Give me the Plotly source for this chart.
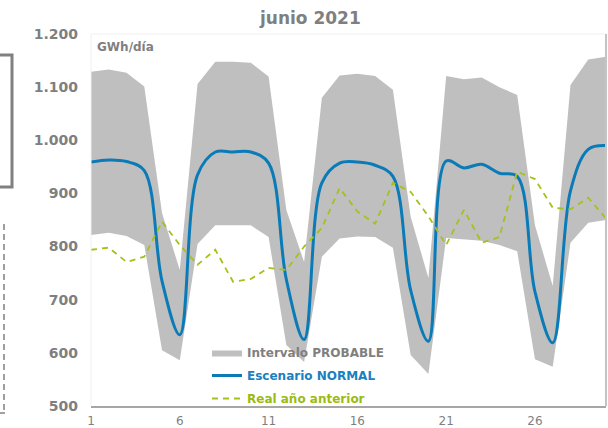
import plotly.graph_objects as go

days = list(range(1, 31))
upper = [1129, 1133, 1127, 1101, 863, 756, 1106, 1148, 1148, 1146, 1120, 869, 771, 1080, 1122,
         1125, 1121, 1095, 856, 741, 1121, 1115, 1118, 1100, 1085, 840, 726, 1104, 1152, 1157]
lower = [822, 826, 820, 803, 605, 586, 805, 840, 840, 840, 818, 615, 583, 781, 815,
         819, 818, 798, 596, 560, 816, 813, 811, 803, 791, 588, 574, 807, 845, 850]
normal = [959, 963, 960, 943, 735, 634, 935, 978, 978, 978, 957, 738, 625, 920, 957,
          959, 953, 932, 718, 622, 961, 948, 955, 938, 932, 715, 619, 905, 983, 990]
anterior = [794, 798, 771, 781, 847, 803, 766, 794, 734, 739, 760, 756, 800, 835, 910,
            866, 843, 920, 903, 857, 803, 869, 807, 818, 941, 927, 873, 870, 892, 853]
xticks = [1, 6, 11, 16, 21, 26]
yticks = [500, 600, 700, 800, 900, 1000, 1100, 1200]

GRAY = "#7f7f7f"
BAND = "#bfbfbf"
BLUE = "#0b7bb7"
GREEN = "#a3c21a"
FONT = "DejaVu Sans"

fig = go.Figure()
fig.add_trace(go.Scatter(x=days, y=lower, mode="lines", line=dict(width=0, color=BAND),
                         showlegend=False, hoverinfo="skip", legendgroup="a"))
fig.add_trace(go.Scatter(x=days, y=upper, mode="lines", line=dict(width=0, color=BAND),
                         fill="tonexty", fillcolor=BAND, legendgroup="a",
                         name="<span style='color:#7f7f7f'>Intervalo PROBABLE</span>"))
fig.add_trace(go.Scatter(x=days, y=normal, mode="lines", legendgroup="b",
                         line=dict(color=BLUE, width=3, shape="spline", smoothing=1),
                         name="<span style='color:#1a80bf'>Escenario NORMAL</span>"))
fig.add_trace(go.Scatter(x=days, y=anterior, mode="lines", legendgroup="c",
                         line=dict(color=GREEN, width=1.8, dash="6px,5px"),
                         name="<span style='color:#9cbb10'>Real año anterior</span>"))

def px_x(p):
    return (p - 91) / 515.0

def px_y(p):
    return (406 - p) / 372.0

shapes = [
    # faint plot frame
    dict(type="line", xref="paper", yref="paper", x0=0, x1=1, y0=1, y1=1,
         line=dict(color="#f0f0f0", width=1)),
    dict(type="line", xref="paper", yref="paper", x0=0, x1=0, y0=0, y1=1,
         line=dict(color="#f0f0f0", width=1)),
    dict(type="line", xref="paper", yref="paper", x0=1, x1=1, y0=0, y1=1,
         line=dict(color="#c4c4c4", width=2)),
    # left-edge decorations
    dict(type="path", xref="paper", yref="paper",
         path=f"M {px_x(0)},{px_y(55)} L {px_x(12)},{px_y(55)} L {px_x(12)},{px_y(187)} L {px_x(0)},{px_y(187)}",
         line=dict(color="#808080", width=3)),
    dict(type="line", xref="paper", yref="paper", x0=px_x(4), x1=px_x(4), y0=px_y(224), y1=px_y(413),
         line=dict(color="#808080", width=1.5, dash="6px,4px")),
    dict(type="line", xref="paper", yref="paper", x0=px_x(0), x1=px_x(5), y0=px_y(413), y1=px_y(413),
         line=dict(color="#808080", width=1.5)),
]

annotations = [
    dict(text="<b>junio 2021</b>", xref="paper", yref="paper", x=px_x(310), y=px_y(18),
         showarrow=False, font=dict(family=FONT, size=17, color=GRAY), xanchor="center", yanchor="middle"),
    dict(text="<b>GWh/día</b>", xref="paper", yref="paper", x=px_x(95), y=px_y(47),
         showarrow=False, font=dict(family=FONT, size=12, color=GRAY), xanchor="left", yanchor="middle"),
]

fig.update_layout(
    width=608, height=428,
    margin=dict(l=91, r=2, t=34, b=22),
    paper_bgcolor="white", plot_bgcolor="white",
    separators=",.",
    showlegend=True,
    legend=dict(x=px_x(207), y=px_y(338), xanchor="left", yanchor="top",
                bgcolor="rgba(0,0,0,0)", tracegroupgap=4,
                font=dict(family=FONT, size=12, color=GRAY, weight="bold")),
    shapes=shapes,
    annotations=annotations,
    xaxis=dict(range=[1, 30], tickvals=xticks, ticktext=[str(v) for v in xticks],
               automargin=False,
               showgrid=False, zeroline=False, showline=True, linecolor="#a6a6a6", linewidth=2,
               ticks="", ticklabelstandoff=3, tickfont=dict(family=FONT, size=12, color=GRAY)),
    yaxis=dict(range=[500, 1200], tickvals=yticks, tickformat=",.0f", automargin=False,
               showgrid=False, zeroline=False, showline=False, ticks="",
               ticklabelstandoff=12,
               tickfont=dict(family=FONT, size=14, color=GRAY, weight="bold")),
)

fig.write_html("out.html", config={"displayModeBar": False},
               post_script="document.body.style.margin='0';document.body.style.overflow='hidden';")
